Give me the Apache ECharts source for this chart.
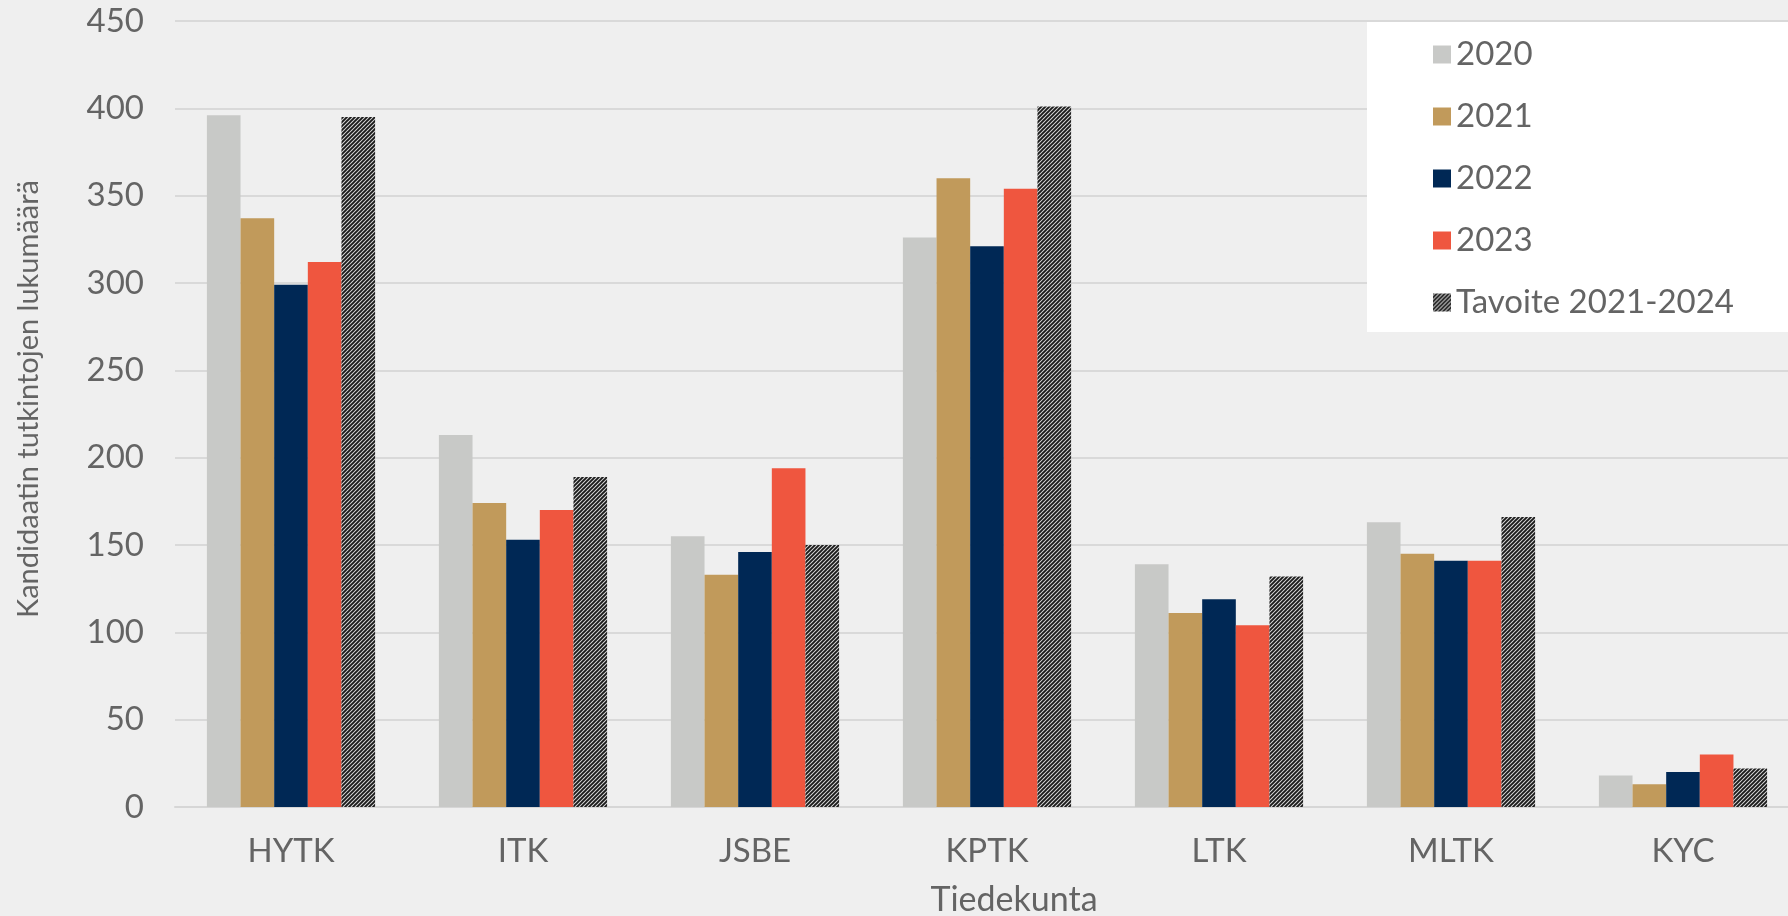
<!DOCTYPE html>
<html>
<head>
<meta charset="utf-8">
<script src="https://cdn.jsdelivr.net/npm/echarts@6/dist/echarts.min.js"></script>
<style>
  html, body { margin: 0; padding: 0; background: #efefef; }
  #chart { width: 1788px; height: 916px; }
</style>
</head>
<body>
<div id="chart"></div>
<script>
const faculties = ['HYTK', 'ITK', 'JSBE', 'KPTK', 'LTK', 'MLTK', 'KYC']
const y2020 = [396, 213, 155, 326, 139, 163, 18]
const y2021 = [337, 174, 133, 360, 111, 145, 13]
const y2022 = [299, 153, 146, 321, 119, 141, 20]
const y2023 = [312, 170, 194, 354, 104, 141, 30]
const target = [395, 189, 150, 401, 132, 166, 22]
const yTicks = [0, 50, 100, 150, 200, 250, 300, 350, 400, 450]

// hatch pattern for the target bars
function hatch() {
  const c = document.createElement('canvas')
  c.width = 4
  c.height = 4
  const ctx = c.getContext('2d')
  ctx.fillStyle = '#d8d8d8'
  ctx.fillRect(0, 0, 4, 4)
  ctx.strokeStyle = '#1a1a1a'
  ctx.lineWidth = 1.9
  ctx.beginPath()
  ctx.moveTo(-2, 2); ctx.lineTo(2, -2)
  ctx.moveTo(0, 4); ctx.lineTo(4, 0)
  ctx.moveTo(2, 6); ctx.lineTo(6, 2)
  ctx.stroke()
  return c
}

const font = 'Lato, "Noto Sans", sans-serif'
const txt = '#646464'
const chart = echarts.init(document.getElementById('chart'))

function bar(name, data, color) {
  return {
    name: name,
    type: 'bar',
    data: data,
    barGap: '0%',
    barCategoryGap: '27.5%',
    itemStyle: { color: color }
  }
}

chart.setOption({
  backgroundColor: '#efefef',
  animation: false,
  graphic: [{
    type: 'rect',
    shape: { x: 1367, y: 22, width: 421, height: 310 },
    style: { fill: '#ffffff' },
    z: 5
  }],
  legend: {
    orient: 'vertical',
    left: 1428,
    top: 33,
    itemWidth: 18,
    itemHeight: 18,
    itemGap: 29,
    icon: 'rect',
    z: 10,
    textStyle: { fontFamily: font, fontSize: 33, lineHeight: 30, color: txt },
    data: ['2020', '2021', '2022', '2023', 'Tavoite 2021-2024']
  },
  grid: { left: 175, top: 21, width: 1624, height: 786, outerBoundsMode: 'none' },
  xAxis: {
    type: 'category',
    data: faculties,
    axisTick: { show: false },
    axisLine: { lineStyle: { color: '#d6d6d6', width: 2 } },
    axisLabel: { fontFamily: font, fontSize: 33, color: txt, margin: 28 },
    name: 'Tiedekunta',
    nameLocation: 'middle',
    nameGap: 76,
    nameTextStyle: { fontFamily: font, fontSize: 34, color: txt, padding: [0, 0, 0, 54] }
  },
  yAxis: {
    type: 'value',
    min: yTicks[0],
    max: yTicks[yTicks.length - 1],
    interval: 50,
    axisLine: { show: false },
    axisTick: { show: false },
    splitLine: { lineStyle: { color: '#d9d9d9', width: 2 } },
    axisLabel: { fontFamily: font, fontSize: 33, color: txt, margin: 31 },
    name: 'Kandidaatin tutkintojen lukumäärä',
    nameLocation: 'middle',
    nameGap: 132,
    nameTextStyle: { fontFamily: font, fontSize: 29, color: txt, padding: [0, 0, 0, 30] }
  },
  series: [
    bar('2020', y2020, '#c8c9c7'),
    bar('2021', y2021, '#c19a5b'),
    bar('2022', y2022, '#002855'),
    bar('2023', y2023, '#ef563f'),
    bar('Tavoite 2021-2024', target, { image: hatch(), repeat: 'repeat' })
  ]
})
</script>
</body>
</html>
